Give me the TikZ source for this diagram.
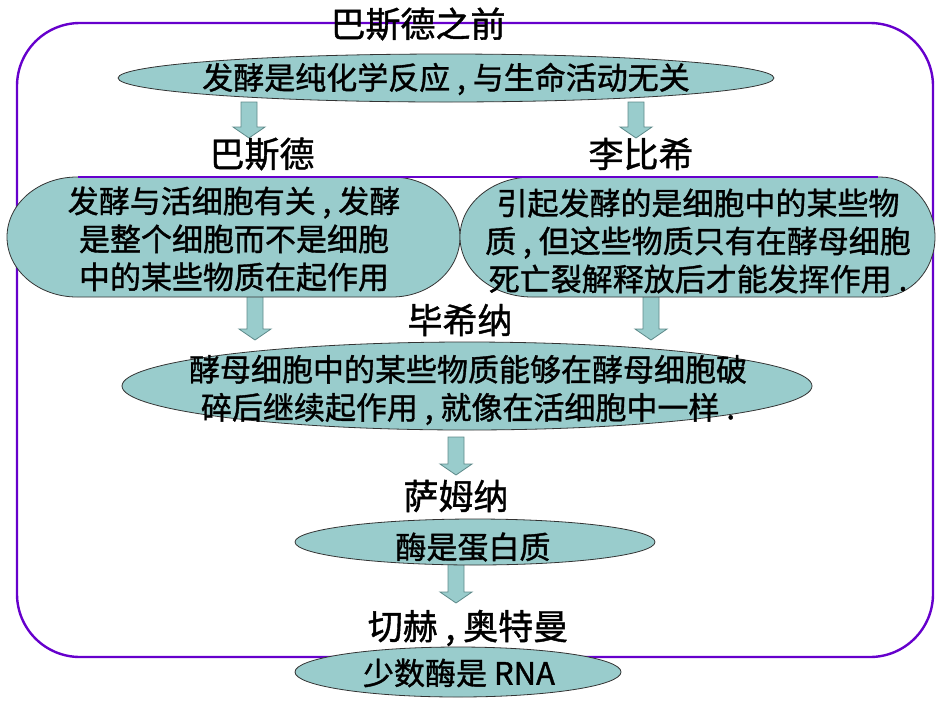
\documentclass[tikz,border=0pt]{standalone}
\usepackage{fontspec}
\setmainfont{Noto Sans CJK SC}[FakeBold=1.2]
\usetikzlibrary{shapes.geometric,calc}
\definecolor{framepurple}{HTML}{6600CC}
\definecolor{ovalfill}{HTML}{99CCCC}
\definecolor{arrowedge}{HTML}{5E8A8A}
\tikzset{
  oval/.style={ellipse, draw=black!80, line width=0.8pt, fill=ovalfill, inner sep=0pt},
  ovalpath/.style={draw=black!80, line width=0.8pt, fill=ovalfill},
  bodytext/.style={align=center, inner sep=0pt, font=\fontsize{31}{38}\selectfont},
  labeltext/.style={inner sep=0pt, font=\fontsize{35}{40}\selectfont},
  blockarrow/.style={fill=ovalfill, draw=arrowedge, line width=0.8pt,
    to path={let \p1=(\tikztostart), \p2=(\tikztotarget) in
      (\x1-8pt,\y1) -- (\x1+8pt,\y1) -- (\x1+8pt,\y2+11pt) -- (\x1+16pt,\y2+11pt)
      -- (\x1,\y2) -- (\x1-16pt,\y2+11pt) -- (\x1-8pt,\y2+11pt) -- cycle}}
}
\begin{document}
\begin{tikzpicture}[x=1pt,y=-1pt]
\useasboundingbox (0,0) rectangle (950,713);
% frame
\draw[framepurple, line width=2.4pt, rounded corners=63pt] (17,23) rectangle (933,657);
% arrow coordinates
\coordinate (a1s) at (249,102); \coordinate (a1e) at (249,138);
\coordinate (a2s) at (636,102); \coordinate (a2e) at (636,138);
\coordinate (a3s) at (255,296); \coordinate (a3e) at (255,340);
\coordinate (a4s) at (651,296); \coordinate (a4e) at (651,340);
\coordinate (a5s) at (456,437); \coordinate (a5e) at (456,475);
\coordinate (a6s) at (456,564); \coordinate (a6e) at (456,603);
\draw[blockarrow] (a1s) to (a1e);
\draw[blockarrow] (a2s) to (a2e);
\draw[blockarrow] (a3s) to (a3e);
\draw[blockarrow] (a4s) to (a4e);
\draw[blockarrow] (a5s) to (a5e);
\draw[blockarrow] (a6s) to (a6e);
% title and labels
\node[labeltext] (title) at (418,24) {巴斯德之前};
\node[labeltext] (pasteur) at (262,154) {巴斯德};
\node[labeltext] (liebig) at (641,154) {李比希};
\node[labeltext] (buchner) at (460,320) {毕希纳};
\node[labeltext] (sumner) at (456,496) {萨姆纳};
\node[labeltext] (cech) at (468,628) {切赫 , 奥特曼};
% ovals
\node[oval, minimum width=656pt, minimum height=48pt] (e1) at (446,78) {};
\path[ovalpath] (77,177) -- (392,177)
  arc[start angle=90, end angle=-90, x radius=68pt, y radius=60pt] -- (77,297)
  arc[start angle=270, end angle=90, x radius=70pt, y radius=60pt] -- cycle;
\coordinate (e2) at (233,237);
\path[ovalpath] (532,177) -- (880,177)
  arc[start angle=90, end angle=-90, x radius=55pt, y radius=60pt] -- (532,297)
  arc[start angle=270, end angle=90, x radius=72pt, y radius=60pt] -- cycle;
\coordinate (e3) at (697,237);
\draw[framepurple, line width=1.4pt] (78,177) -- (878,177);
\node[oval, minimum width=690pt, minimum height=88pt] (e4) at (467,386) {};
\node[oval, minimum width=360pt, minimum height=46pt] (e5) at (475,542) {};
\node[oval, minimum width=326pt, minimum height=50pt] (e6) at (458,672) {};
% texts
\node[bodytext] (t1) at (446,79) {发酵是纯化学反应 , 与生命活动无关};
\node[bodytext] (t2) at (234,239) {发酵与活细胞有关 , 发酵\\是整个细胞而不是细胞\\中的某些物质在起作用};
\node[bodytext] (t3) at (698,241) {引起发酵的是细胞中的某些物\\质 , 但这些物质只有在酵母细胞\\死亡裂解释放后才能发挥作用 .};
\node[bodytext] (t4) at (468,390) {酵母细胞中的某些物质能够在酵母细胞破\\碎后继续起作用 , 就像在活细胞中一样 .};
\node[bodytext] (t5) at (473,547) {酶是蛋白质};
\node[bodytext] (t6) at (459,673) {少数酶是 RNA};
\end{tikzpicture}
\end{document}
